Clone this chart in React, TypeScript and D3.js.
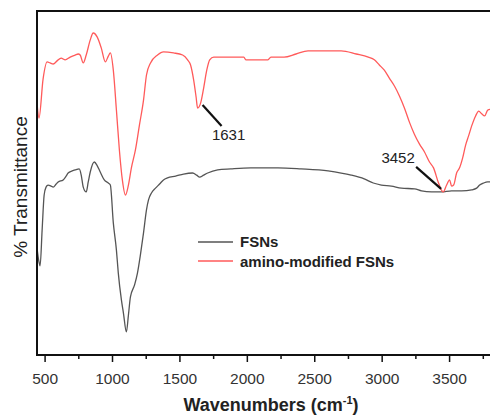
import React from "react";
import * as d3 from "d3";

const fsnWave = [440, 455, 463, 478, 493, 507, 522, 545, 560, 582, 597, 634, 656, 671, 701, 723, 753, 768, 783, 805, 820, 835, 865, 887, 909, 939, 969, 984, 1006, 1029, 1043, 1066, 1081, 1103, 1118, 1133, 1163, 1185, 1207, 1230, 1252, 1267, 1289, 1319, 1349, 1378, 1408, 1468, 1527, 1594, 1624, 1646, 1676, 1706, 1780, 1877, 2026, 2227, 2398, 2599, 2696, 2770, 2867, 2934, 2994, 3068, 3143, 3240, 3292, 3366, 3440, 3515, 3589, 3664, 3701, 3723, 3753, 3783, 3813];
const fsnT = [31.1, 27.0, 25.9, 36.3, 46.5, 48.8, 49.4, 49.1, 48.8, 49.7, 50.3, 50.9, 52.0, 52.9, 53.5, 53.8, 54.1, 52.3, 48.8, 47.4, 50.3, 53.2, 56.1, 55.0, 53.2, 50.9, 50.0, 49.4, 38.4, 30.5, 23.8, 16.0, 12.2, 6.7, 11.6, 16.9, 20.3, 23.8, 29.1, 35.5, 42.2, 45.1, 47.1, 48.5, 49.7, 50.9, 51.5, 52.0, 52.6, 52.9, 52.3, 51.7, 52.3, 52.9, 53.8, 54.1, 54.4, 54.4, 54.1, 53.5, 52.9, 52.3, 51.2, 50.0, 49.4, 49.1, 48.5, 48.3, 47.7, 47.4, 47.4, 47.7, 47.7, 48.0, 48.5, 49.4, 50.0, 50.3, 50.3];

const aminoWave = [440, 455, 485, 515, 537, 560, 589, 619, 649, 686, 723, 746, 760, 783, 805, 835, 857, 887, 917, 947, 969, 984, 1006, 1029, 1051, 1073, 1096, 1118, 1140, 1170, 1200, 1230, 1252, 1282, 1334, 1378, 1453, 1520, 1557, 1579, 1602, 1620, 1631, 1654, 1676, 1699, 1721, 1751, 1974, 1989, 2153, 2175, 2272, 2361, 2450, 2696, 2808, 2897, 2942, 2979, 3016, 3053, 3091, 3128, 3165, 3202, 3239, 3277, 3314, 3351, 3381, 3418, 3452, 3478, 3500, 3515, 3530, 3552, 3574, 3597, 3619, 3641, 3664, 3693, 3716, 3738, 3760, 3783, 3813];
const aminoT = [73.3, 68.9, 80.2, 85.2, 84.9, 84.6, 85.5, 86.3, 85.8, 86.6, 87.2, 87.5, 87.2, 84.9, 87.2, 91.6, 93.6, 92.4, 89.2, 85.2, 86.9, 87.8, 82.8, 71.2, 59.6, 50.9, 46.5, 49.4, 54.4, 59.6, 66.9, 74.1, 81.4, 84.9, 87.2, 88.1, 87.8, 87.2, 85.8, 84.3, 79.9, 75.0, 71.8, 73.3, 77.6, 82.8, 85.8, 86.6, 86.6, 85.8, 85.8, 86.6, 86.6, 87.5, 88.4, 88.4, 87.5, 86.6, 85.8, 84.3, 82.8, 80.5, 78.2, 75.3, 71.8, 67.7, 64.2, 61.3, 59.0, 56.1, 54.4, 50.0, 47.4, 49.4, 50.9, 49.1, 49.4, 52.9, 54.4, 57.3, 61.0, 63.7, 66.6, 69.5, 70.9, 70.1, 69.5, 71.2, 71.5];

const majorTicks = [500, 1000, 1500, 2000, 2500, 3000, 3500];
const minorTicks = [750, 1250, 1750, 2250, 2750, 3250, 3750];

const seriesNames = ["FSNs", "amino-modified FSNs"];
const seriesColors = ["#555555", "#ff5a5a"];

const peakLabels = ["1631", "3452"];
const peakWave = [1631, 3452];
const peakT = [71.8, 47.4];

export default function App() {
  const W = 490, H = 416;
  const left = 37, top = 11, bottom = 355;
  const x = d3.scaleLinear().domain([440, 4000]).range([left, 517]);
  const y = d3.scaleLinear().domain([0, 100]).range([bottom, top]);
  const line = d3.line<[number, number]>().x(d => x(d[0])).y(d => y(d[1])).curve(d3.curveMonotoneX);
  const fsnPts = fsnWave.map((w, i) => [w, fsnT[i]] as [number, number]);
  const aminoPts = aminoWave.map((w, i) => [w, aminoT[i]] as [number, number]);
  const font = "Liberation Sans, Arial, sans-serif";

  return (
    <svg width={W} height={H} style={{ position: "absolute", left: 0, top: 0, background: "#fff" }} fontFamily={font}>
      <defs>
        <clipPath id="plot"><rect x={left} y={top} width={W - left} height={bottom - top} /></clipPath>
      </defs>
      <g clipPath="url(#plot)">
        <path d={line(fsnPts) || ""} fill="none" stroke={seriesColors[0]} strokeWidth={1.3} />
        <path d={line(aminoPts) || ""} fill="none" stroke={seriesColors[1]} strokeWidth={1.3} />
      </g>
      {/* frame */}
      <line x1={left} x2={W} y1={top} y2={top} stroke="#111" strokeWidth={2} />
      <line x1={left} x2={left} y1={top - 1} y2={bottom + 1} stroke="#111" strokeWidth={2} />
      <line x1={left - 1} x2={W} y1={bottom} y2={bottom} stroke="#111" strokeWidth={2} />
      {majorTicks.map(t => (
        <g key={t}>
          <line x1={x(t)} x2={x(t)} y1={bottom} y2={bottom + 7} stroke="#111" strokeWidth={1.5} />
          <text x={x(t)} y={384} textAnchor="middle" fontSize={15.5} fill="#333">{t}</text>
        </g>
      ))}
      {minorTicks.map(t => (
        <line key={t} x1={x(t)} x2={x(t)} y1={bottom} y2={bottom + 4} stroke="#111" strokeWidth={1.5} />
      ))}
      {/* axis titles */}
      <text x={W / 2 + 26} y={411} textAnchor="middle" fontSize={18} fontWeight="bold" fill="#222">
        Wavenumbers (cm<tspan fontSize={11} dy={-7}>-1</tspan><tspan dy={7}>)</tspan>
      </text>
      <text transform={`translate(27,187) rotate(-90)`} textAnchor="middle" fontSize={19} fill="#222">% Transmittance</text>
      {/* legend */}
      {seriesNames.map((n, i) => (
        <g key={n}>
          <line x1={198} x2={233} y1={242 + i * 19} y2={242 + i * 19} stroke={seriesColors[i]} strokeWidth={1.3} />
          <text x={240} y={247 + i * 20} fontSize={15} fontWeight="bold" fill="#222">{n}</text>
        </g>
      ))}
      {/* peak annotations */}
      {peakLabels.map((l, i) => {
        const px = x(peakWave[i]);
        const py = y(peakT[i]);
        const right = i === 0;
        return (
          <g key={l}>
            {right ? (
              <line x1={px + 5} y1={py - 3} x2={px + 24} y2={py + 18} stroke="#111" strokeWidth={2.2} />
            ) : (
              <line x1={px - 2} y1={py - 3} x2={px - 27} y2={py - 25} stroke="#111" strokeWidth={2.2} />
            )}
            <text x={right ? px + 31 : px - 45} y={right ? py + 32 : py - 29} textAnchor="middle" fontSize={15} fill="#222">{l}</text>
          </g>
        );
      })}
    </svg>
  );
}
